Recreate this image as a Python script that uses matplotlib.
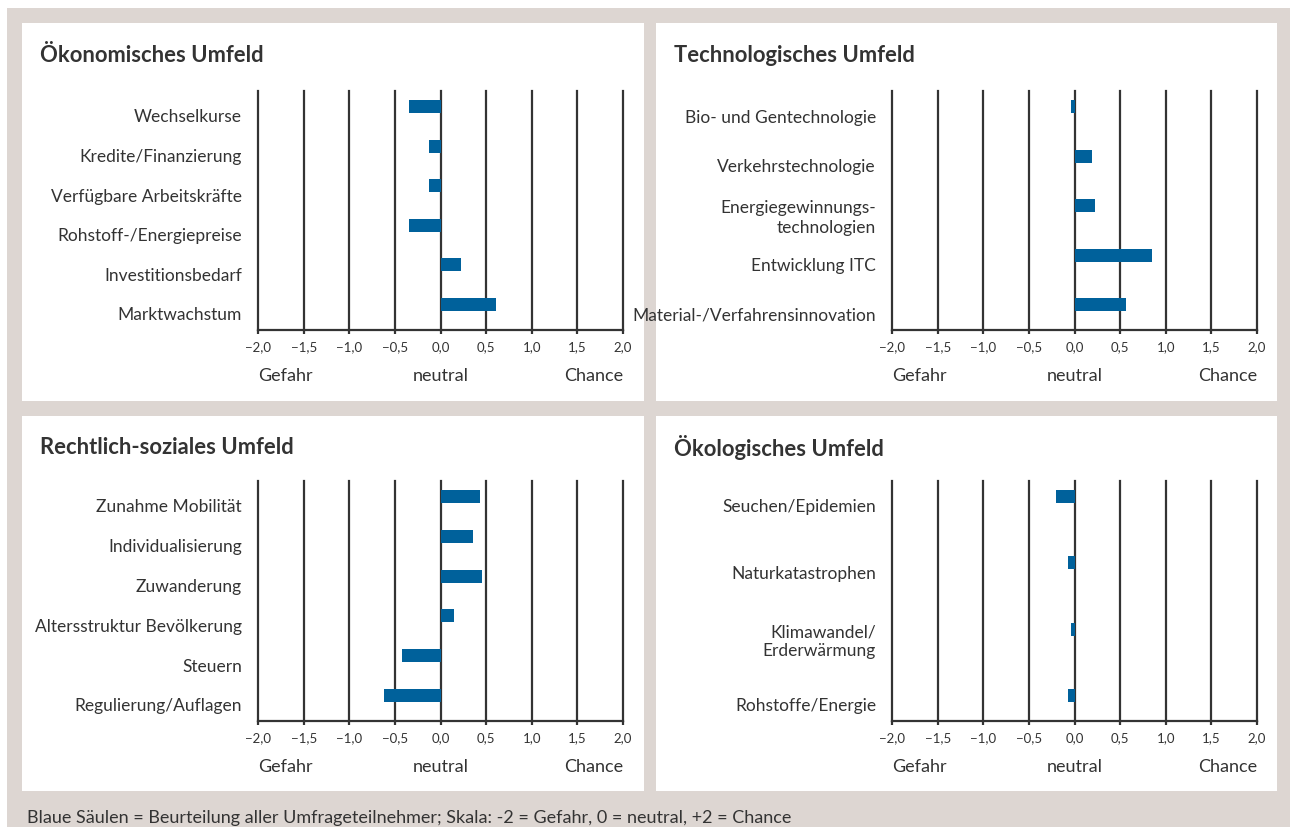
import matplotlib
matplotlib.use("Agg")
import matplotlib.pyplot as plt
import matplotlib.transforms as mtransforms
from matplotlib.patches import Rectangle
import numpy as np

# ---------------- data ----------------
titles = ["Ökonomisches Umfeld", "Technologisches Umfeld",
          "Rechtlich-soziales Umfeld", "Ökologisches Umfeld"]

oek_labels = ["Wechselkurse", "Kredite/Finanzierung", "Verfügbare Arbeitskräfte",
              "Rohstoff-/Energiepreise", "Investitionsbedarf", "Marktwachstum"]
oek_values = [-0.34, -0.13, -0.13, -0.34, 0.22, 0.61]

tech_labels = ["Bio- und Gentechnologie", "Verkehrstechnologie",
               "Energiegewinnungs-\ntechnologien", "Entwicklung ITC",
               "Material-/Verfahrensinnovation"]
tech_values = [-0.04, 0.19, 0.22, 0.85, 0.56]

rs_labels = ["Zunahme Mobilität", "Individualisierung", "Zuwanderung",
             "Altersstruktur Bevölkerung", "Steuern", "Regulierung/Auflagen"]
rs_values = [0.43, 0.36, 0.46, 0.15, -0.42, -0.62]

oeko_labels = ["Seuchen/Epidemien", "Naturkatastrophen",
               "Klimawandel/\nErderwärmung", "Rohstoffe/Energie"]
oeko_values = [-0.20, -0.07, -0.04, -0.07]

x_ticks = [-2.0, -1.5, -1.0, -0.5, 0.0, 0.5, 1.0, 1.5, 2.0]
x_ticklabels = ["\u22122,0", "\u22121,5", "\u22121,0", "\u22120,5", "0,0",
                "0,5", "1,0", "1,5", "2,0"]
scale_words = ["Gefahr", "neutral", "Chance"]
footer = "Blaue Säulen = Beurteilung aller Umfrageteilnehmer; Skala: -2 = Gefahr, 0 = neutral, +2 = Chance"

# ---------------- style ----------------
W, H, DPI = 1290, 828, 100
FONT = ["Lato", "DejaVu Sans"]
plt.rcParams["font.family"] = FONT
BEIGE = "#ddd6d2"
BAR = "#00619b"
TXT = "#333333"
LINE = "#333333"

fig = plt.figure(figsize=(W / DPI, H / DPI), dpi=DPI)
fig.patch.set_facecolor("white")


def frac_rect(x0, y0, x1, y1):
    return [x0 / W, 1 - y1 / H, (x1 - x0) / W, (y1 - y0) / H]


# background frame
fig.patches.append(Rectangle((7 / W, 0), (W - 7) / W, (H - 9) / H,
                             transform=fig.transFigure, facecolor=BEIGE,
                             edgecolor="none", zorder=-10))

panels = [
    ((22, 24, 644, 402), (258, 92, 623, 331), oek_labels, oek_values),
    ((656, 24, 1277, 402), (892, 92, 1257, 331), tech_labels, tech_values),
    ((22, 417, 644, 792), (258, 482, 623, 722), rs_labels, rs_values),
    ((656, 417, 1277, 792), (892, 482, 1257, 722), oeko_labels, oeko_values),
]

for (panel, axbox, labels, values), title in zip(panels, titles):
    px0, py0, px1, py1 = panel
    fig.patches.append(Rectangle((px0 / W, 1 - py1 / H), (px1 - px0) / W,
                                 (py1 - py0) / H, transform=fig.transFigure,
                                 facecolor="white", edgecolor="none", zorder=-5))
    fig.text((px0 + 18) / W, 1 - (py0 + 31) / H, title, fontsize=15.8,
             fontweight="bold", color=TXT, ha="left", va="center")

    ax0, ay0, ax1, ay1 = axbox
    ax = fig.add_axes(frac_rect(ax0, ay0, ax1, ay1))
    ax.set_facecolor("none")
    hpx = ay1 - ay0
    n = len(labels)
    pos = np.arange(n)[::-1]
    f_top = 1 - 15.5 / hpx
    f_bot = 25.5 / hpx
    s = (f_top - f_bot) / (n - 1)
    ax.set_ylim(-f_bot / s, (n - 1) + (1 - f_top) / s)
    ax.set_xlim(-2, 2)
    bh = 13 / hpx / s
    ax.barh(pos, values, height=bh, color=BAR, zorder=3)

    for xt in x_ticks:
        ax.axvline(xt, color=LINE, lw=1.6, zorder=2, clip_on=False)
    for sp in ["top", "right", "left"]:
        ax.spines[sp].set_visible(False)
    ax.spines["bottom"].set_color(LINE)
    ax.spines["bottom"].set_linewidth(1.6)

    ax.set_xticks(x_ticks)
    ax.set_xticklabels(x_ticklabels, fontsize=9.5, color=TXT)
    ax.tick_params(axis="x", direction="out", length=3, width=1.6,
                   color=LINE, pad=4)
    ax.set_yticks(pos)
    ax.set_yticklabels(labels, fontsize=12.5, color=TXT, linespacing=1.25,
                       multialignment="right")
    ax.tick_params(axis="y", length=0, pad=11.5)
    off = mtransforms.ScaledTranslation(0, -8.5 / DPI, fig.dpi_scale_trans)
    for lab in ax.get_yticklabels():
        lab.set_transform(lab.get_transform() + off)

    tr = mtransforms.blended_transform_factory(ax.transData, ax.transAxes)
    yw = -45.5 / hpx
    ax.text(-2, yw, scale_words[0], transform=tr, ha="left", va="center",
            fontsize=13, color=TXT)
    ax.text(0, yw, scale_words[1], transform=tr, ha="center", va="center",
            fontsize=13, color=TXT)
    ax.text(2, yw, scale_words[2], transform=tr, ha="right", va="center",
            fontsize=13, color=TXT)

fig.text(27 / W, 1 - 818 / H, footer, fontsize=13, color=TXT,
         ha="left", va="center")

fig.savefig("out.png", dpi=DPI)
